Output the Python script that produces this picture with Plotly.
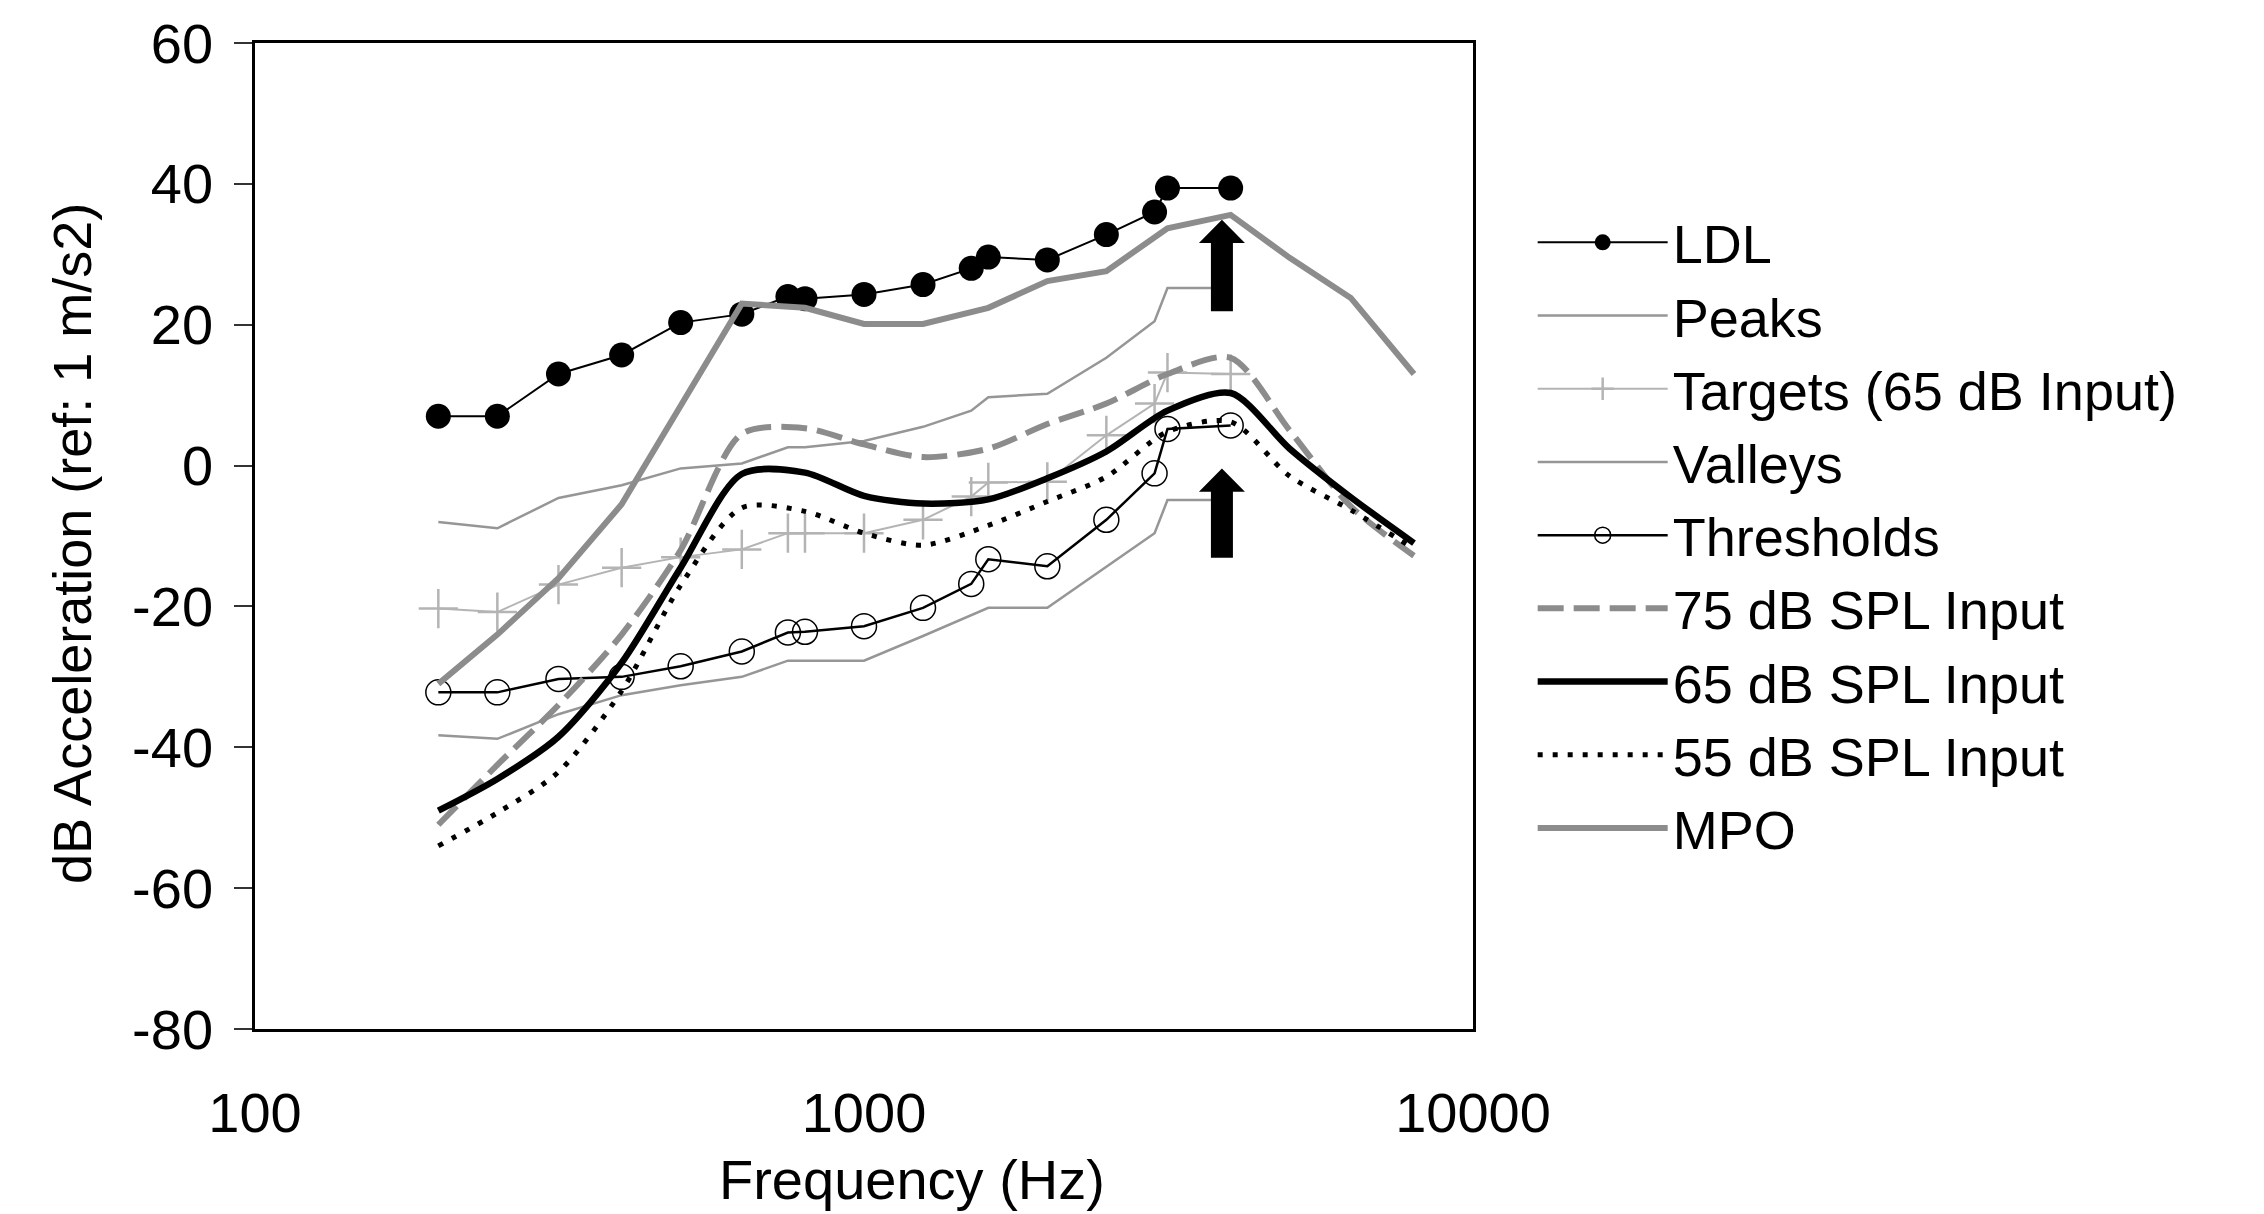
import plotly.graph_objects as go

# Audiometric frequencies (Hz) for the measured series
freq_audio = [200, 250, 315, 400, 500, 630, 750, 800, 1000, 1250, 1500, 1600,
              2000, 2500, 3000, 3150, 4000]

ldl = [7, 7, 13, 15.7, 20.3, 21.5, 24, 23.7, 24.3, 25.7, 28, 29.6, 29.2, 32.8,
       36, 39.4, 39.4]
peaks = [-8, -8.9, -4.6, -2.8, -0.4, 0.3, 2.6, 2.6, 3.5, 5.5, 7.8, 9.7, 10.2,
         15.3, 20.5, 25.2, 25.2]
targets = [-20.3, -20.8, -16.9, -14.5, -13, -11.9, -9.6, -9.6, -9.6, -7.7,
           -4.4, -2.4, -2.3, 4.3, 8.8, 13.2, 13.0]
valleys = [-38.3, -38.8, -35.3, -32.6, -31.2, -30.0, -27.7, -27.7, -27.7,
           -24.2, -21.3, -20.2, -20.2, -14.3, -9.6, -4.9, -4.9]
thresholds = [-32.2, -32.2, -30.3, -30, -28.5, -26.4, -23.7, -23.6, -22.8,
              -20.2, -16.8, -13.3, -14.3, -7.7, -1.1, 5.2, 5.7]

# One-third-octave frequencies (Hz) for the device output curves
freq_third = [200, 250, 315, 400, 500, 630, 800, 1000, 1250, 1600, 2000, 2500,
              3150, 4000, 5000, 6300, 8000]

out_75 = [-51, -42.5, -34, -24, -12, 4.5, 5.3, 3, 1.2, 2.4, 5.9, 8.8, 13,
          15.3, 5.0, -5.8, -12.8]
out_65 = [-49, -44.5, -38.5, -28, -14.5, -1.2, -1.0, -4.3, -5.4, -4.8, -1.8,
          2, 7.8, 10.3, 2.4, -4.5, -11]
out_55 = [-54, -49.3, -43.5, -32, -17, -6, -6.5, -9.6, -11.3, -8.5, -5.1,
          -1.6, 4.8, 6.2, -1.5, -6.3, -11.8]
mpo = [-31, -24, -16, -5.5, 8.5, 23, 22.4, 20.1, 20.1, 22.4, 26.2, 27.6, 33.7,
       35.6, 29.5, 23.8, 13]

# Up-arrows marking where LDL and thresholds exceed the measurement limit
arrow_freq = 3870
arrow_base = [21.9, -13.1]
arrow_tip = [34.9, -0.4]

y_ticks = [-80, -60, -40, -20, 0, 20, 40, 60]
x_ticks = [100, 1000, 10000]

FONT = "Liberation Sans, Arial, sans-serif"
GRAY = "#8c8c8c"
THIN_GRAY = "#969696"
LIGHT_GRAY = "#b4b4b4"

fig = go.Figure()

fig.add_trace(go.Scatter(
    x=freq_audio, y=ldl, name="LDL", mode="lines+markers",
    line=dict(color="black", width=2),
    marker=dict(symbol="circle", size=25, color="black")))
fig.add_trace(go.Scatter(
    x=freq_audio, y=peaks, name="Peaks", mode="lines",
    line=dict(color=THIN_GRAY, width=2.5)))
fig.add_trace(go.Scatter(
    x=freq_audio, y=targets, name="Targets (65 dB Input)", mode="lines+markers",
    line=dict(color=LIGHT_GRAY, width=2),
    marker=dict(symbol="cross-thin", size=28,
                line=dict(color=LIGHT_GRAY, width=2.5))))
fig.add_trace(go.Scatter(
    x=freq_audio, y=valleys, name="Valleys", mode="lines",
    line=dict(color=THIN_GRAY, width=2.5)))
fig.add_trace(go.Scatter(
    x=freq_audio, y=thresholds, name="Thresholds", mode="lines+markers",
    line=dict(color="black", width=2.5),
    marker=dict(symbol="circle-open", size=25,
                line=dict(color="black", width=1.5))))
fig.add_trace(go.Scatter(
    x=freq_third, y=out_75, name="75 dB SPL Input", mode="lines",
    line=dict(color=GRAY, width=6, dash="26px,10px", shape="spline",
              smoothing=0.8)))
fig.add_trace(go.Scatter(
    x=freq_third, y=out_65, name="65 dB SPL Input", mode="lines",
    line=dict(color="black", width=6.5, shape="spline", smoothing=0.8)))
fig.add_trace(go.Scatter(
    x=freq_third, y=out_55, name="55 dB SPL Input", mode="lines",
    line=dict(color="black", width=5, dash="5px,10px", shape="spline",
              smoothing=0.8)))
fig.add_trace(go.Scatter(
    x=freq_third, y=mpo, name="MPO", mode="lines",
    line=dict(color=GRAY, width=6)))

# Block arrows: x in pixels around the anchor frequency, y in dB
shaft_half, head_half, head_db = 11, 23, 3.3
for base, tip in zip(arrow_base, arrow_tip):
    neck = tip - head_db
    path = (f"M{-shaft_half},{base} L{shaft_half},{base} L{shaft_half},{neck} "
            f"L{head_half},{neck} L0,{tip} L{-head_half},{neck} "
            f"L{-shaft_half},{neck} Z")
    fig.add_shape(type="path", xref="x", yref="y", xsizemode="pixel",
                  xanchor=arrow_freq, path=path, fillcolor="black",
                  line=dict(color="black", width=0), layer="above")

fig.update_layout(
    width=2264, height=1214,
    margin=dict(l=255, r=791, t=37, b=185),
    plot_bgcolor="white", paper_bgcolor="white",
    font=dict(family=FONT, size=56, color="black"),
    showlegend=True,
    legend=dict(x=1.049, y=0.840, xanchor="left", yanchor="top",
                font=dict(family=FONT, size=54, color="black"),
                bgcolor="rgba(0,0,0,0)", itemwidth=130, tracegroupgap=0),
    xaxis=dict(type="log", range=[2, 4], tickvals=x_ticks,
               ticktext=[str(v) for v in x_ticks], ticks="",
               showgrid=False, zeroline=False, showline=True,
               linecolor="black", linewidth=2.5, mirror=True,
               ticklabelstandoff=33, tickfont=dict(size=56)),
    yaxis=dict(range=[-80, 60], tickvals=y_ticks,
               ticktext=[str(v) for v in y_ticks], ticks="outside",
               ticklen=18, tickwidth=2, tickcolor="#333333",
               showgrid=False, zeroline=False, showline=True,
               linecolor="black", linewidth=2.5, mirror=True,
               ticklabelstandoff=10, tickfont=dict(size=56)),
    annotations=[
        dict(text="Frequency (Hz)", xref="paper", yref="paper",
             x=(912 - 255) / 1218, y=-(1180 - 1029) / 992,
             xanchor="center", yanchor="middle", showarrow=False,
             font=dict(family=FONT, size=56, color="black")),
        dict(text="dB Acceleration (ref: 1 m/s2)", xref="paper", yref="paper",
             x=(72 - 255) / 1218, y=1 - (541 - 37) / 992, textangle=-90,
             xanchor="center", yanchor="middle", showarrow=False,
             font=dict(family=FONT, size=54, color="black")),
    ],
)

fig.write_html("out.html")
